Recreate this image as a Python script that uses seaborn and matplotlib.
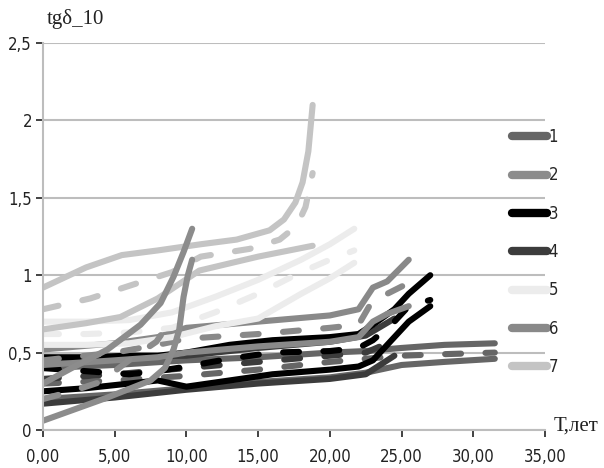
import matplotlib
matplotlib.use("Agg")
import matplotlib.pyplot as plt
from matplotlib.lines import Line2D
import seaborn as sns

# --- data (T in years, tg delta) ---
g1_x = [0, 5, 10, 15, 20, 22.5, 25, 28, 31.5]
g1_hi = [0.40, 0.42, 0.45, 0.47, 0.50, 0.51, 0.53, 0.55, 0.56]
g1_mid = [0.30, 0.32, 0.35, 0.39, 0.44, 0.46, 0.48, 0.49, 0.50]
g1_lo = [0.20, 0.23, 0.27, 0.31, 0.34, 0.37, 0.42, 0.44, 0.46]

g2_hi_x = [0, 2, 4.5, 6.8, 8.2, 9.1, 9.8, 10.4]
g2_hi = [0.30, 0.40, 0.52, 0.68, 0.82, 0.99, 1.15, 1.30]
g2_mid_x = [0, 2, 4, 6, 7.9, 8.8]
g2_mid = [0.20, 0.25, 0.31, 0.45, 0.57, 0.69]
g2_lo_x = [0, 4.5, 7.5, 8.5, 9.1, 9.5, 9.8, 10.1, 10.4]
g2_lo = [0.06, 0.21, 0.32, 0.40, 0.52, 0.65, 0.86, 1.00, 1.10]

g3_x = [0, 3, 6, 8, 10, 13, 16, 20, 22, 23, 24.5, 25.5, 27]
g3_hi = [0.47, 0.47, 0.48, 0.48, 0.50, 0.55, 0.58, 0.60, 0.62, 0.68, 0.78, 0.88, 1.00]
g3_mid = [0.40, 0.38, 0.36, 0.38, 0.41, 0.46, 0.50, 0.51, 0.53, 0.58, 0.70, 0.80, 0.84]
g3_lo = [0.25, 0.27, 0.30, 0.32, 0.28, 0.32, 0.36, 0.39, 0.41, 0.45, 0.60, 0.70, 0.80]

g4_x = [0, 5, 10, 15, 20, 22.5, 24.5]
g4_hi = [0.46, 0.47, 0.48, 0.53, 0.57, 0.61, 0.72]
g4_mid = [0.33, 0.36, 0.40, 0.44, 0.48, 0.50, 0.58]
g4_lo = [0.17, 0.21, 0.26, 0.30, 0.33, 0.36, 0.48]

g5_x = [0, 3, 6, 9, 12, 15, 18, 20, 21.7]
g5_hi = [0.70, 0.70, 0.71, 0.76, 0.86, 0.97, 1.10, 1.20, 1.30]
g5_mid = [0.62, 0.62, 0.63, 0.66, 0.76, 0.88, 1.02, 1.10, 1.16]
g5_lo = [0.55, 0.55, 0.56, 0.60, 0.67, 0.72, 0.88, 0.98, 1.08]

g6_x = [0, 5, 8, 10, 15, 20, 22, 23, 24, 25.5]
g6_hi = [0.52, 0.56, 0.60, 0.66, 0.70, 0.74, 0.78, 0.92, 0.96, 1.10]
g6_mid = [0.45, 0.50, 0.55, 0.59, 0.62, 0.66, 0.68, 0.84, 0.88, 0.95]
g6_lo = [0.42, 0.45, 0.47, 0.50, 0.54, 0.57, 0.60, 0.70, 0.75, 0.80]

g7_hi_x = [0, 3, 5.5, 8, 11, 13.5, 15.8, 16.8, 17.6, 18.1, 18.5, 18.8]
g7_hi = [0.92, 1.05, 1.13, 1.16, 1.20, 1.23, 1.29, 1.36, 1.47, 1.60, 1.80, 2.10]
g7_mid_x = [0, 3.3, 6.3, 9, 11, 14.4, 16.5, 17.7, 18.3, 18.8]
g7_mid = [0.78, 0.85, 0.94, 1.02, 1.12, 1.17, 1.23, 1.32, 1.44, 1.66]
g7_lo_x = [0, 3, 5.4, 8, 10.9, 15, 18.8]
g7_lo = [0.65, 0.69, 0.73, 0.85, 1.03, 1.12, 1.19]

labels = ["1", "2", "3", "4", "5", "6", "7"]
colors = ["#666666", "#8c8c8c", "#000000", "#3c3c3c", "#ececec", "#898989", "#c4c4c4"]

x_ticks = [0, 5, 10, 15, 20, 25, 30, 35]
y_ticks = [0, 0.5, 1, 1.5, 2, 2.5]

groups = {
    "1": [(g1_x, g1_lo, "-"), (g1_x, g1_mid, "--"), (g1_x, g1_hi, "-")],
    "2": [(g2_lo_x, g2_lo, "-"), (g2_mid_x, g2_mid, "--"), (g2_hi_x, g2_hi, "-")],
    "3": [(g3_x, g3_lo, "-"), (g3_x, g3_mid, "--"), (g3_x, g3_hi, "-")],
    "4": [(g4_x, g4_lo, "-"), (g4_x, g4_mid, "--"), (g4_x, g4_hi, "-")],
    "5": [(g5_x, g5_lo, "-"), (g5_x, g5_mid, "--"), (g5_x, g5_hi, "-")],
    "6": [(g6_x, g6_lo, "-"), (g6_x, g6_mid, "--"), (g6_x, g6_hi, "-")],
    "7": [(g7_lo_x, g7_lo, "-"), (g7_mid_x, g7_mid, "--"), (g7_hi_x, g7_hi, "-")],
}
draw_order = ["1", "4", "3", "6", "5", "7", "2"]

sns.set_theme(style="white")
plt.rcParams["font.family"] = ["DejaVu Sans"]
plt.rcParams["font.stretch"] = "condensed"
serif = "Liberation Serif"

fig = plt.figure(figsize=(6.04, 4.68), dpi=100)
ax = fig.add_axes([43 / 604, 1 - 430 / 468, 502 / 604, 387 / 468])

lw = 4.4
for key in draw_order:
    c = colors[labels.index(key)]
    for xs, ys, ls in groups[key]:
        sns.lineplot(x=xs, y=ys, ax=ax, color=c, linewidth=lw, estimator=None,
                     sort=False, solid_capstyle="round", dash_capstyle="round",
                     solid_joinstyle="round", dash_joinstyle="round")
        line = ax.lines[-1]
        if ls == "--":
            line.set_dashes((2.6, 4.0))

ax.set_xlim(0, 35)
ax.set_ylim(0, 2.5)
ax.set_xticks(x_ticks)
ax.set_xticklabels([f"{v:.2f}".replace(".", ",") for v in x_ticks])
ax.set_yticks(y_ticks)
ax.set_yticklabels([("%g" % v).replace(".", ",") for v in y_ticks])
ax.tick_params(axis="both", labelsize=12, colors="#222222", length=5, width=1.2,
               direction="out", bottom=True, left=True)
for t in ax.get_xticklines() + ax.get_yticklines():
    t.set_color("#b4b4b4")
ax.tick_params(axis="x", pad=8)
ax.tick_params(axis="y", pad=3)

ax.grid(axis="y", color="#bdbdbd", linewidth=1.5)
ax.grid(axis="x", visible=False)
for side in ["top", "right"]:
    ax.spines[side].set_visible(False)
for side in ["left", "bottom"]:
    ax.spines[side].set_color("#bdbdbd")
    ax.spines[side].set_linewidth(1.5)

fig.text(47 / 604, 1 - 19 / 468, "tgδ_10", fontsize=15, family=[serif, "DejaVu Sans"],
         stretch="normal", va="center", ha="left", color="#222222")
fig.text(554 / 604, 1 - 426 / 468, "Т,лет", fontsize=15, family=[serif, "DejaVu Sans"],
         stretch="normal", va="center", ha="left", color="#222222")

handles = [Line2D([0], [0], color=c, linewidth=6, solid_capstyle="round") for c in colors]
fig.legend(handles, labels, loc="center left", bbox_to_anchor=(512 / 604, 1 - 252 / 468),
           frameon=False, fontsize=12, handlelength=2.1, handletextpad=0.1,
           labelspacing=1.22, borderpad=0, borderaxespad=0)

fig.savefig("out.png", dpi=100)
